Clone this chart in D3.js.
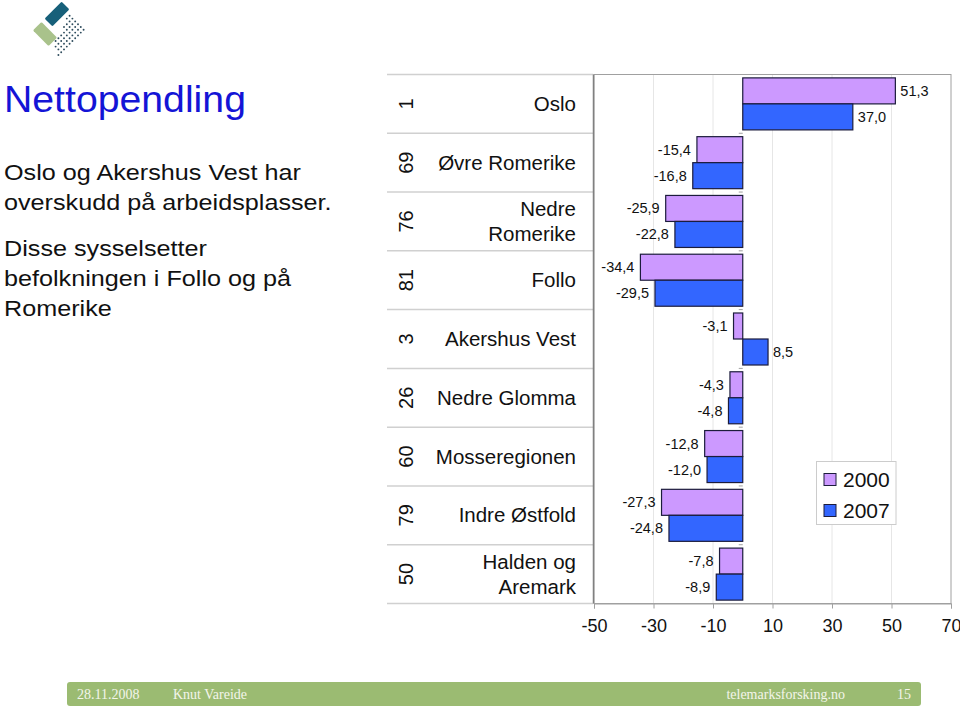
<!DOCTYPE html>
<html>
<head>
<meta charset="utf-8">
<script src="https://cdn.jsdelivr.net/npm/d3@7"></script>
<style>
  body { margin: 0; background: #fff; }
  svg { display: block; }
</style>
</head>
<body>
<div id="chart"></div>
<script>
// regions, top to bottom
var categories = ['Oslo', 'Øvre Romerike', 'Nedre Romerike', 'Follo', 'Akershus Vest',
                  'Nedre Glomma', 'Mosseregionen', 'Indre Østfold', 'Halden og Aremark'];
var labelLines = [['Oslo'], ['Øvre Romerike'], ['Nedre', 'Romerike'], ['Follo'], ['Akershus Vest'],
                  ['Nedre Glomma'], ['Mosseregionen'], ['Indre Østfold'], ['Halden og', 'Aremark']];
var ranks = ['1', '69', '76', '81', '3', '26', '60', '79', '50'];
var years = ['2000', '2007'];
var values2000 = [51.3, -15.4, -25.9, -34.4, -3.1, -4.3, -12.8, -27.3, -7.8];
var values2007 = [37.0, -16.8, -22.8, -29.5, 8.5, -4.8, -12.0, -24.8, -8.9];
var xTicks = [-50, -30, -10, 10, 30, 50, 70];
var bodyLines = ['Oslo og Akershus Vest har', 'overskudd på arbeidsplasser.', '',
                 'Disse sysselsetter', 'befolkningen i Follo og på', 'Romerike'];

var width = 960, height = 708;
var colors = {'2000': '#cc99ff', '2007': '#3366ff'};
var font = '"Liberation Sans", Arial, sans-serif';

var svg = d3.select('#chart').append('svg')
    .attr('width', width)
    .attr('height', height)
    .style('font-family', font);

// logo
var logo = svg.append('g');
logo.append('rect')
    .attr('x', -5.5).attr('y', -12).attr('width', 11).attr('height', 24)
    .attr('rx', 1.2)
    .attr('fill', '#17607a')
    .attr('transform', 'translate(57,14) rotate(45)');
logo.append('rect')
    .attr('x', -6).attr('y', -11).attr('width', 12).attr('height', 22)
    .attr('rx', 1.2)
    .attr('fill', '#a9c28b')
    .attr('transform', 'translate(45,34) rotate(-45)');
// dotted part, diamond lattice inside an outline
var dotArea = [[68, 14], [89, 30], [60, 58], [52, 46], [63, 30]];
var dots = [];
for (var i = 0; i < 16; i++) {
  for (var j = 0; j < 18; j++) {
    if ((i + j) % 2) continue;
    var p = [50 + i * 2.8, 13 + j * 2.8];
    if (d3.polygonContains(dotArea, p)) dots.push(p);
  }
}
logo.append('g').selectAll('circle')
    .data(dots)
    .enter()
    .append('circle')
    .attr('cx', function(d) { return d[0]; })
    .attr('cy', function(d) { return d[1]; })
    .attr('r', 0.95)
    .attr('fill', '#2d4b5c');

// title and text
svg.append('text')
    .attr('transform', 'translate(4,112) scale(1.06,1)')
    .style('font-size', '37px')
    .attr('fill', '#1414d6')
    .text('Nettopendling');

svg.append('g').selectAll('text')
    .data(bodyLines)
    .enter()
    .append('text')
    .attr('transform', function(d, i) {
      return 'translate(4,' + (180 + i * 30 - (i > 2 ? 14 : 0)) + ') scale(1.12,1)';
    })
    .style('font-size', '22.5px')
    .attr('fill', '#111')
    .text(function(d) { return d; });

// scales
var x = d3.scaleLinear().domain([-50, 70]).range([594, 951]);
var y = d3.scaleBand().domain(categories).range([74.5, 603.5]);
var ySub = d3.scaleBand().domain(years).range([0, y.bandwidth()]).paddingOuter(0.13);

// grid lines
svg.append('g').selectAll('line')
    .data(xTicks.slice(1, -1))
    .enter()
    .append('line')
    .attr('x1', function(d) { return x(d); })
    .attr('x2', function(d) { return x(d); })
    .attr('y1', 74.5).attr('y2', 603.5)
    .attr('stroke', '#e6e6e6');

// plot frame
svg.append('rect')
    .attr('x', 594).attr('y', 74.5)
    .attr('width', 951 - 594).attr('height', 603.5 - 74.5)
    .attr('fill', 'none')
    .attr('stroke', '#a0a0a0');

// table rows on the left
var bounds = categories.map(function(c) { return y(c); }).concat([603.5]);
svg.append('g').selectAll('line')
    .data(bounds)
    .enter()
    .append('line')
    .attr('x1', 387).attr('x2', 593)
    .attr('y1', function(d) { return d; })
    .attr('y2', function(d) { return d; })
    .attr('stroke', '#d0d0d0')
    .attr('stroke-width', 1.5);

svg.append('line')
    .attr('x1', 593.5).attr('x2', 593.5)
    .attr('y1', 74.5).attr('y2', 603.5)
    .attr('stroke', '#808080')
    .attr('stroke-width', 1.5);

var rows = svg.append('g').selectAll('g')
    .data(categories)
    .enter()
    .append('g')
    .attr('transform', function(d) { return 'translate(0,' + (y(d) + y.bandwidth() / 2) + ')'; });

rows.append('text')
    .attr('transform', 'translate(413,0) rotate(-90)')
    .attr('text-anchor', 'middle')
    .style('font-size', '20px')
    .attr('fill', '#111')
    .text(function(d, i) { return ranks[i]; });

rows.append('text')
    .attr('text-anchor', 'end')
    .style('font-size', '20.5px')
    .attr('fill', '#111')
    .each(function(d, i) {
      var lines = labelLines[i];
      var t = d3.select(this);
      lines.forEach(function(line, k) {
        t.append('tspan')
          .attr('x', 576)
          .attr('y', 7 + (k - (lines.length - 1) / 2) * 25)
          .text(line);
      });
    });

// small ticks on the category axis at zero
svg.append('g').selectAll('line')
    .data(bounds)
    .enter()
    .append('line')
    .attr('x1', x(0) - 4).attr('x2', x(0))
    .attr('y1', function(d) { return d; })
    .attr('y2', function(d) { return d; })
    .attr('stroke', '#a0a0a0');

// bars
var fmt = function(v) { return d3.format('.1f')(v).replace('.', ',').replace('−', '-'); };
var seriesData = [];
categories.forEach(function(c, i) {
  seriesData.push({cat: c, year: '2000', value: values2000[i]});
  seriesData.push({cat: c, year: '2007', value: values2007[i]});
});

var bars = svg.append('g').selectAll('g')
    .data(seriesData)
    .enter()
    .append('g')
    .attr('transform', function(d) { return 'translate(0,' + (y(d.cat) + ySub(d.year)) + ')'; });

bars.append('rect')
    .attr('x', function(d) { return x(Math.min(0, d.value)); })
    .attr('width', function(d) { return Math.abs(x(d.value) - x(0)); })
    .attr('height', ySub.bandwidth())
    .attr('fill', function(d) { return colors[d.year]; })
    .attr('stroke', '#1c1c3c')
    .attr('stroke-width', 1.2);

bars.append('text')
    .attr('x', function(d) { return d.value < 0 ? x(d.value) - 6 : x(d.value) + 5; })
    .attr('y', ySub.bandwidth() / 2 + 5)
    .attr('text-anchor', function(d) { return d.value < 0 ? 'end' : 'start'; })
    .style('font-size', '14.5px')
    .attr('fill', '#111')
    .text(function(d) { return fmt(d.value); });

// x axis
var xAxis = d3.axisBottom(x)
    .tickValues(xTicks)
    .tickSize(5)
    .tickFormat(function(d) { return String(d); });

var ax = svg.append('g')
    .attr('transform', 'translate(0,603.5)')
    .call(xAxis);
ax.select('.domain').attr('stroke', '#a0a0a0');
ax.selectAll('.tick line').attr('stroke', '#a0a0a0');
ax.selectAll('.tick text')
    .attr('y', 16)
    .style('font-size', '18px')
    .style('font-family', font)
    .attr('fill', '#111');

// legend
var legend = svg.append('g');
legend.append('rect')
    .attr('x', 816.5).attr('y', 461.5)
    .attr('width', 79.5).attr('height', 63)
    .attr('fill', '#fff')
    .attr('stroke', '#cccccc');

var items = legend.selectAll('g')
    .data(years)
    .enter()
    .append('g')
    .attr('transform', function(d, i) { return 'translate(824,' + (479.5 + i * 31) + ')'; });
items.append('rect')
    .attr('x', 0).attr('y', -6)
    .attr('width', 12).attr('height', 12)
    .attr('fill', function(d) { return colors[d]; })
    .attr('stroke', '#1c1c3c');
items.append('text')
    .attr('x', 19).attr('y', 7.5)
    .style('font-size', '21px')
    .attr('fill', '#111')
    .text(function(d) { return d; });

// footer
var footer = svg.append('g').style('font-family', '"Liberation Serif", "Times New Roman", serif');
footer.append('rect')
    .attr('x', 67).attr('y', 682)
    .attr('width', 921 - 67).attr('height', 24)
    .attr('rx', 3)
    .attr('fill', '#9bbb72');
var footTexts = [
  {t: '28.11.2008', x: 77, a: 'start'},
  {t: 'Knut Vareide', x: 173, a: 'start'},
  {t: 'telemarksforsking.no', x: 845, a: 'end'},
  {t: '15', x: 911, a: 'end'}
];
footer.selectAll('text')
    .data(footTexts)
    .enter()
    .append('text')
    .attr('x', function(d) { return d.x; })
    .attr('y', 698.5)
    .attr('text-anchor', function(d) { return d.a; })
    .style('font-size', '14px')
    .attr('fill', '#f3f5ea')
    .text(function(d) { return d.t; });
</script>
</body>
</html>
